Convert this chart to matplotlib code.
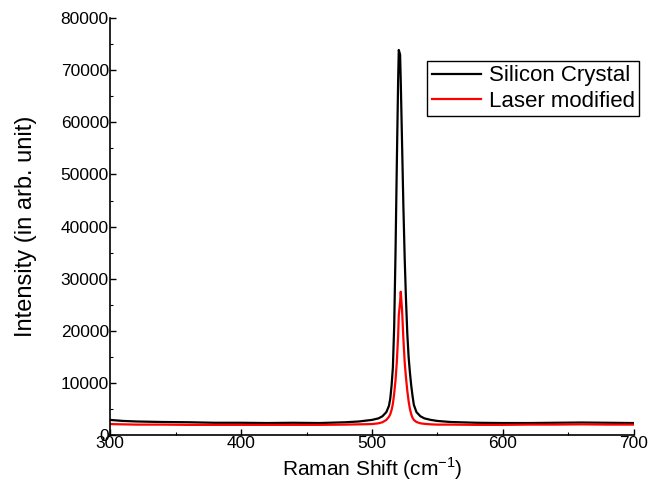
import matplotlib
matplotlib.use("Agg")
import matplotlib.pyplot as plt
from matplotlib.ticker import MultipleLocator

plt.rcParams['font.family'] = ['Liberation Sans', 'DejaVu Sans']
plt.rcParams['mathtext.fontset'] = 'custom'
plt.rcParams['mathtext.rm'] = 'Liberation Sans'

# Raman shift (cm^-1), shared by both spectra
shift = [300, 310, 320, 340, 360, 380, 400, 420, 440, 460,
         480, 490, 500, 505, 508, 511, 513, 514, 515, 516,
         517, 518, 519, 520, 520.5, 521.5, 522, 523, 524, 525,
         526, 527, 528, 529, 530, 531, 532, 534, 537, 540,
         545, 550, 560, 580, 600, 620, 640, 660, 680, 700]

silicon = [2900, 2700, 2600, 2500, 2450, 2350, 2350, 2300, 2350, 2300,
           2450, 2600, 2900, 3200, 3600, 4400, 5600, 7000, 9500, 13000,
           21000, 35000, 52000, 68000, 73900, 73000, 68000, 56000, 44000, 34000,
           26000, 19500, 15000, 12000, 9500, 7500, 5800, 4400, 3600, 3200,
           2900, 2700, 2500, 2350, 2300, 2300, 2350, 2400, 2350, 2300]

laser = [2100, 2050, 2000, 2000, 1950, 1950, 1950, 1950, 1950, 1950,
         2000, 2050, 2100, 2250, 2450, 2900, 3500, 4000, 4800, 6000,
         8000, 10500, 14000, 19000, 23000, 25500, 27500, 24000, 18500, 14000,
         11000, 8500, 6500, 5000, 4000, 3300, 2900, 2500, 2250, 2150,
         2050, 2000, 2000, 1950, 1950, 2000, 2000, 2050, 2000, 2000]

fig = plt.figure(figsize=(6.48, 4.91), dpi=100)
ax = fig.add_axes([0.170, 0.114, 0.808, 0.849])

ax.plot(shift, silicon, color="black", linewidth=1.6, label="Silicon Crystal")
ax.plot(shift, laser, color="red", linewidth=1.6, label="Laser modified")

ax.set_xlim(300, 700)
ax.set_ylim(0, 80000)
ax.xaxis.set_major_locator(MultipleLocator(100))
ax.xaxis.set_minor_locator(MultipleLocator(50))
ax.yaxis.set_major_locator(MultipleLocator(10000))
ax.yaxis.set_minor_locator(MultipleLocator(5000))

for side in ["top", "right"]:
    ax.spines[side].set_visible(False)
for side in ["left", "bottom"]:
    ax.spines[side].set_linewidth(1.2)

ax.tick_params(which="both", direction="in", labelsize=12.5, pad=1)
ax.tick_params(which="major", length=4, width=1)
ax.tick_params(which="minor", length=2.5, width=0.8)

ax.set_xlabel("Raman Shift (cm$^{-1}$)", fontsize=15, labelpad=3)
ax.set_ylabel("Intensity (in arb. unit)", fontsize=17, labelpad=17)

leg = ax.legend(loc="upper right", bbox_to_anchor=(639 / 648, 1 - 61 / 491),
                bbox_transform=fig.transFigure, fontsize=16, frameon=True,
                fancybox=False, framealpha=1, edgecolor="black",
                borderaxespad=0, handlelength=2.2, handletextpad=0.35,
                borderpad=0.2, labelspacing=0.2)
leg.get_frame().set_linewidth(1.0)

fig.savefig("out.png", dpi=100)
